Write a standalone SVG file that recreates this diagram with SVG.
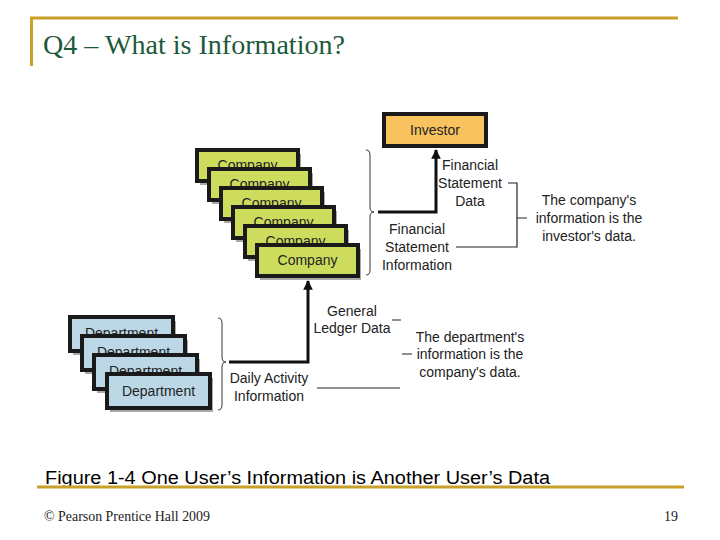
<svg xmlns="http://www.w3.org/2000/svg" width="720" height="540" viewBox="0 0 720 540">
<style>
.frame{stroke:#c8a02a;stroke-width:3;fill:none}
.title{font-family:"Liberation Serif",serif;font-size:27px;fill:#1d5a3c}
.cap{font-family:"Liberation Sans",Arial,sans-serif;font-size:18px;fill:#000}
.foot{font-family:"Liberation Serif",serif;font-size:14px;fill:#222}
.box{stroke:#1a1a1a;stroke-width:4}
.shadow{fill:#a9a9a9}
.comp{fill:#cddc5c}
.dept{fill:#bcd8e6}
.inv{fill:#f8c25e}
.lbl{font-family:"Liberation Sans",Arial,sans-serif;font-size:14px;fill:#222;text-anchor:middle}
.main{stroke:#111;stroke-width:3;fill:none}
.thin{stroke:#222;stroke-width:1.2;fill:none}
.brace{stroke:#333;stroke-width:1;fill:none}
</style>
<defs>
<marker id="ah" viewBox="0 0 10 10" refX="9" refY="5" markerWidth="3.2" markerHeight="3.2" orient="auto">
<path d="M0,0 L10,5 L0,10 Z" fill="#111"/>
</marker>
</defs>
<g id="frame">
<path class="frame" d="M30,18 H678 M31.5,18 V66"/>
<text class="title" x="43" y="54" textLength="302" lengthAdjust="spacingAndGlyphs">Q4 – What is Information?</text>
</g>
<g id="companies">
<g id="company1"><rect class="shadow" x="200" y="154" width="101" height="31"/><rect class="box comp" x="197" y="150" width="101" height="31"/><text class="lbl" x="247.5" y="170">Company</text></g>
<g id="company2"><rect class="shadow" x="212" y="173" width="101" height="31"/><rect class="box comp" x="209" y="169" width="101" height="31"/><text class="lbl" x="259.5" y="189">Company</text></g>
<g id="company3"><rect class="shadow" x="224" y="192" width="101" height="31"/><rect class="box comp" x="221" y="188" width="101" height="31"/><text class="lbl" x="271.5" y="208">Company</text></g>
<g id="company4"><rect class="shadow" x="236" y="211" width="101" height="31"/><rect class="box comp" x="233" y="207" width="101" height="31"/><text class="lbl" x="283.5" y="227">Company</text></g>
<g id="company5"><rect class="shadow" x="248" y="230" width="101" height="31"/><rect class="box comp" x="245" y="226" width="101" height="31"/><text class="lbl" x="295.5" y="246">Company</text></g>
<g id="company6"><rect class="shadow" x="260" y="249" width="101" height="31"/><rect class="box comp" x="257" y="245" width="101" height="31"/><text class="lbl" x="307.5" y="265">Company</text></g>
</g>
<g id="departments">
<g id="dept1"><rect class="shadow" x="73" y="321" width="103" height="34"/><rect class="box dept" x="70" y="317" width="103" height="34"/><text class="lbl" x="121.5" y="338">Department</text></g>
<g id="dept2"><rect class="shadow" x="85" y="340" width="103" height="34"/><rect class="box dept" x="82" y="336" width="103" height="34"/><text class="lbl" x="133.5" y="357">Department</text></g>
<g id="dept3"><rect class="shadow" x="97" y="359" width="103" height="34"/><rect class="box dept" x="94" y="355" width="103" height="34"/><text class="lbl" x="145.5" y="376">Department</text></g>
<g id="dept4"><rect class="shadow" x="110" y="378" width="103" height="34"/><rect class="box dept" x="107" y="374" width="103" height="34"/><text class="lbl" x="158.5" y="396">Department</text></g>
</g>
<g id="investor">
<rect class="box inv" x="384" y="114" width="102" height="32"/>
<text class="lbl" x="435" y="135">Investor</text>
</g>
<g id="connectors">
<path class="brace" d="M366,150 Q370,150 370,155 V207 Q370,212 374,212 Q370,212 370,217 V270 Q370,275 366,275"/>
<path class="main" d="M378,212 H436 V150" marker-end="url(#ah)"/>
<path class="brace" d="M218,318 Q222,318 222,323 V357 Q222,362 226,362 Q222,362 222,367 V405 Q222,410 218,410"/>
<path class="main" d="M229,362 H308 V281" marker-end="url(#ah)"/>
<path class="thin" d="M508,183 H517 V247 H456 M517,218 H527"/>
<path class="thin" d="M392,320 H401 M402,354 H412 M317,388 H400"/>
</g>
<g id="labels">
<text class="lbl" x="470" y="170">Financial</text>
<text class="lbl" x="470" y="188">Statement</text>
<text class="lbl" x="470" y="206">Data</text>
<text class="lbl" x="417" y="234">Financial</text>
<text class="lbl" x="417" y="252">Statement</text>
<text class="lbl" x="417" y="270">Information</text>
<text class="lbl" x="589" y="205">The company's</text>
<text class="lbl" x="589" y="223">information is the</text>
<text class="lbl" x="589" y="241">investor's data.</text>
<text class="lbl" x="352" y="316">General</text>
<text class="lbl" x="352" y="333">Ledger Data</text>
<text class="lbl" x="470" y="342">The department's</text>
<text class="lbl" x="470" y="359">information is the</text>
<text class="lbl" x="470" y="377">company's data.</text>
<text class="lbl" x="269" y="383">Daily Activity</text>
<text class="lbl" x="269" y="401">Information</text>
</g>
<g id="footer">
<text class="cap" x="45" y="484" textLength="505" lengthAdjust="spacingAndGlyphs">Figure 1-4 One User’s Information is Another User’s Data</text>
<path class="frame" d="M37,487 H684"/>
<text class="foot" x="44" y="521" textLength="166" lengthAdjust="spacingAndGlyphs">© Pearson Prentice Hall 2009</text>
<text class="foot" x="678" y="521" text-anchor="end">19</text>
</g>
</svg>
